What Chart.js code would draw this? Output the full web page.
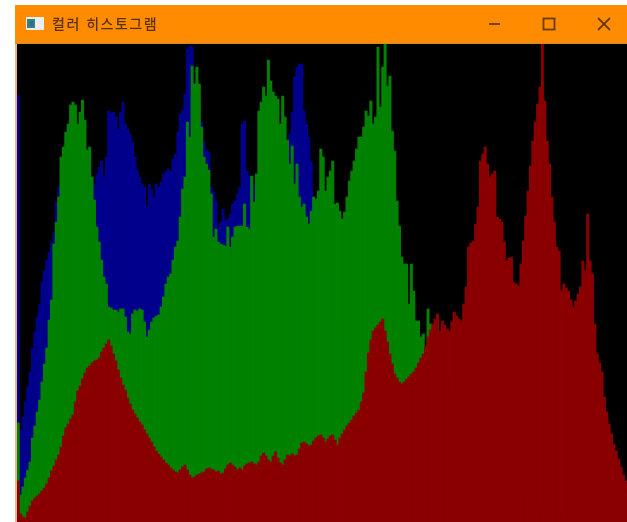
<!DOCTYPE html>
<html lang="ko">
<head>
<meta charset="utf-8">
<title>컬러 히스토그램</title>
<script src="https://cdn.jsdelivr.net/npm/chart.js@4"></script>
<style>
    html, body { margin: 0; padding: 0; background: #fff; overflow: hidden; }
    #titlebar { position: absolute; left: 15px; top: 5px; width: 612px; height: 38px; background: #ff8c00; border-bottom: 1px solid #c98a3a; }
    #titletext { position: absolute; left: 37px; top: 8px; font: 500 14px "Noto Sans CJK KR", sans-serif; letter-spacing: 1.5px; color: #5a3000; line-height: 20px; filter: blur(0.5px); white-space: nowrap; }
    #icon { position: absolute; left: 11px; top: 12px; filter: blur(0.6px); }
    #buttons { position: absolute; left: 470px; top: 8px; filter: blur(0.4px); }
    #edge { position: absolute; left: 15px; top: 44px; width: 2px; height: 478px; background: #e8b48c; }
    #plot { position: absolute; left: 17px; top: 44px; width: 610px; height: 478px; background: #000; overflow: hidden; }
    #plot canvas { filter: blur(0.5px); }
</style>
</head>
<body>
<div id="titlebar">
    <svg id="icon" width="18" height="13">
        <rect width="18" height="13" fill="#e8eef0"/>
        <rect x="1" y="2" width="8" height="9" fill="#3a7f7a"/>
        <rect x="4" y="4" width="3" height="5" fill="#2a6aa0"/>
    </svg>
    <div id="titletext">컬러 히스토그램</div>
    <svg id="buttons" width="130" height="22" fill="none" stroke="#6a3a00" stroke-width="1.8">
        <line x1="4" y1="11" x2="15" y2="11"/>
        <rect x="58.5" y="5.5" width="11" height="11"/>
        <line x1="113" y1="5" x2="125" y2="17"/>
        <line x1="125" y1="5" x2="113" y2="17"/>
    </svg>
</div>
<div id="edge"></div>
<div id="plot"><canvas id="hist" width="610" height="478"></canvas></div>
<script>
document.addEventListener('DOMContentLoaded', () => {

    // histogram bins, 0-255
    const bins = [];
    for (let i = 0; i < 256; i++) bins.push(i);

    const blueValues = [
        427,92,105,120,135,150,174,190,205,218,
        240,251,262,270,280,290,320,335,355,375,
        388,392,395,398,395,390,385,380,372,368,
        360,345,338,348,355,361,345,365,411,409,
        410,405,393,410,420,398,393,388,380,365,
        352,345,338,335,315,338,332,325,338,335,
        340,348,350,353,351,363,368,390,408,412,
        428,473,476,476,440,430,420,400,380,372,
        370,335,330,321,295,300,313,301,303,308,
        318,321,328,335,398,401,351,346,346,338,
        330,335,340,345,345,350,352,352,355,360,
        365,370,375,380,388,410,445,455,458,458,
        411,398,385,360,325,300,290,280,270,262,
        255,245,240,230,222,215,205,200,190,185,
        175,170,160,155,148,140,135,128,122,118,
        112,108,100,96,90,85,80,76,72,68,
        64,60,57,54,50,48,45,42,40,38,
        35,33,31,29,27,25,24,22,21,20,
        18,17,16,15,14,13,12,12,11,10,
        10,9,9,8,8,7,7,7,6,6,
        6,5,5,5,5,4,4,4,4,3,
        3,3,3,3,3,2,2,2,2,2,
        2,2,2,2,1,1,1,1,1,1,
        1,1,1,1,1,1,1,1,1,1,
        1,1,0,0,0,0,0,0,0,0,
        0,0,0,0,0,0
    ];

    const greenValues = [
        99,27,35,44,52,60,84,96,110,122,
        140,158,174,202,222,278,300,325,365,375,
        390,398,417,420,417,398,410,422,402,372,
        375,345,322,295,280,262,245,238,215,214,
        212,212,210,213,213,205,190,188,208,212,
        211,213,212,200,185,192,200,204,206,207,
        215,225,238,245,248,262,275,281,305,333,
        345,400,385,456,438,455,438,395,365,358,
        352,328,285,293,280,278,277,276,295,275,
        285,295,296,296,296,318,295,293,346,320,
        348,411,420,435,426,462,441,430,426,423,
        398,426,405,382,358,376,338,358,325,315,
        318,305,298,311,325,323,331,373,365,331,
        345,351,361,318,319,311,303,310,325,341,
        351,361,373,385,385,395,411,406,421,398,
        405,475,415,455,478,436,446,391,371,321,
        296,265,258,258,218,258,231,201,201,185,
        188,170,213,198,175,172,168,160,165,158,
        150,148,143,140,133,128,125,118,112,110,
        104,98,95,90,86,80,77,72,68,66,
        60,57,54,50,46,44,40,38,35,32,
        30,28,26,24,22,20,18,17,15,14,
        13,12,11,10,9,8,8,7,6,6,
        5,5,4,4,3,3,3,2,2,2,
        2,1,1,1,1,1,1,1,1,1,
        1,1,1,1,0,0
    ];

    const redValues = [
        41,8,5,4,10,16,21,24,26,28,
        31,34,38,44,51,56,62,67,75,86,
        94,98,103,107,120,131,136,143,149,154,
        156,159,161,162,164,170,174,178,182,176,
        168,161,152,144,137,132,124,118,112,108,
        104,100,97,92,88,84,80,75,71,68,
        65,62,59,57,54,52,50,49,52,55,
        57,52,47,44,45,47,48,49,50,53,
        54,53,52,50,51,48,49,53,57,59,
        57,55,52,54,52,56,58,59,60,58,
        57,60,66,69,66,62,60,66,70,64,
        59,57,62,67,66,68,66,67,73,79,
        80,78,76,77,81,84,86,87,84,80,
        83,86,87,82,77,84,88,92,96,99,
        102,106,109,112,120,129,150,169,182,191,
        194,197,200,203,191,180,168,158,148,144,
        140,138,140,143,145,148,150,154,159,164,
        168,176,185,192,198,203,208,191,201,197,
        193,191,200,210,206,203,201,218,235,275,
        279,281,298,315,361,368,375,358,345,348,
        351,305,303,300,280,261,264,265,240,238,
        236,258,281,306,331,356,381,400,418,435,
        478,421,381,358,325,300,275,271,231,238,
        234,231,222,215,221,228,235,261,251,308,
        261,248,198,168,159,150,125,110,98,88,
        78,71,63,55,47,41
    ];

    const ctx = document.getElementById('hist').getContext('2d');
    new Chart(ctx, {
        type: 'bar',
        data: {
            labels: bins,
            datasets: [
                { label: 'R', data: redValues, backgroundColor: '#8a0000', order: 1 },
                { label: 'G', data: greenValues, backgroundColor: '#008200', order: 2 },
                { label: 'B', data: blueValues, backgroundColor: '#00008c', order: 3 }
            ]
        },
        options: {
            responsive: false,
            animation: false,
            layout: { padding: 0 },
            datasets: { bar: { grouped: false, barPercentage: 1, categoryPercentage: 1, borderWidth: 0 } },
            plugins: { legend: { display: false }, tooltip: { enabled: false } },
            scales: {
                x: { display: false },
                y: { display: false, min: 0, max: 478 }
            }
        }
    });
});
</script>
</body>
</html>
